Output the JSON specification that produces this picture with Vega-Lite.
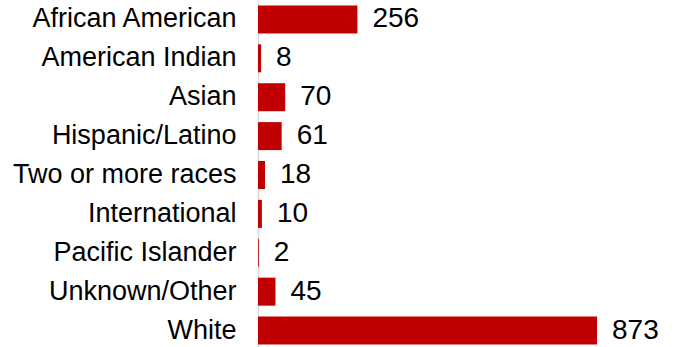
{
  "$schema": "https://vega.github.io/schema/vega-lite/v6.json",
  "width": 400,
  "height": 350,
  "autosize": {"type": "none"},
  "padding": {"left": 258, "top": 0, "right": 18, "bottom": 0},
  "background": "white",
  "config": {"view": {"stroke": null}},
  "data": {
    "values": [
      {"group": "African American", "count": 256},
      {"group": "American Indian", "count": 8},
      {"group": "Asian", "count": 70},
      {"group": "Hispanic/Latino", "count": 61},
      {"group": "Two or more races", "count": 18},
      {"group": "International", "count": 10},
      {"group": "Pacific Islander", "count": 2},
      {"group": "Unknown/Other", "count": 45},
      {"group": "White", "count": 873}
    ]
  },
  "encoding": {
    "y": {
      "field": "group",
      "type": "nominal",
      "sort": null,
      "scale": {"paddingInner": 0.28, "paddingOuter": 0.14},
      "axis": {
        "title": null,
        "ticks": false,
        "tickSize": 0,
        "labelPadding": 22,
        "labelLimit": 300,
        "labelFont": "Liberation Sans",
        "labelFontSize": 27,
        "labelColor": "#000000",
        "domainColor": "#d9d9d9",
        "domainWidth": 1.5
      }
    },
    "x": {
      "field": "count",
      "type": "quantitative",
      "scale": {"domain": [0, 1030], "nice": false},
      "axis": null
    }
  },
  "layer": [
    {"mark": {"type": "bar", "color": "#c00000"}},
    {
      "mark": {"type": "text", "align": "left", "baseline": "middle", "dx": 15, "font": "Liberation Sans", "fontSize": 28, "color": "#000000"},
      "encoding": {"text": {"field": "count", "type": "quantitative"}}
    }
  ]
}
